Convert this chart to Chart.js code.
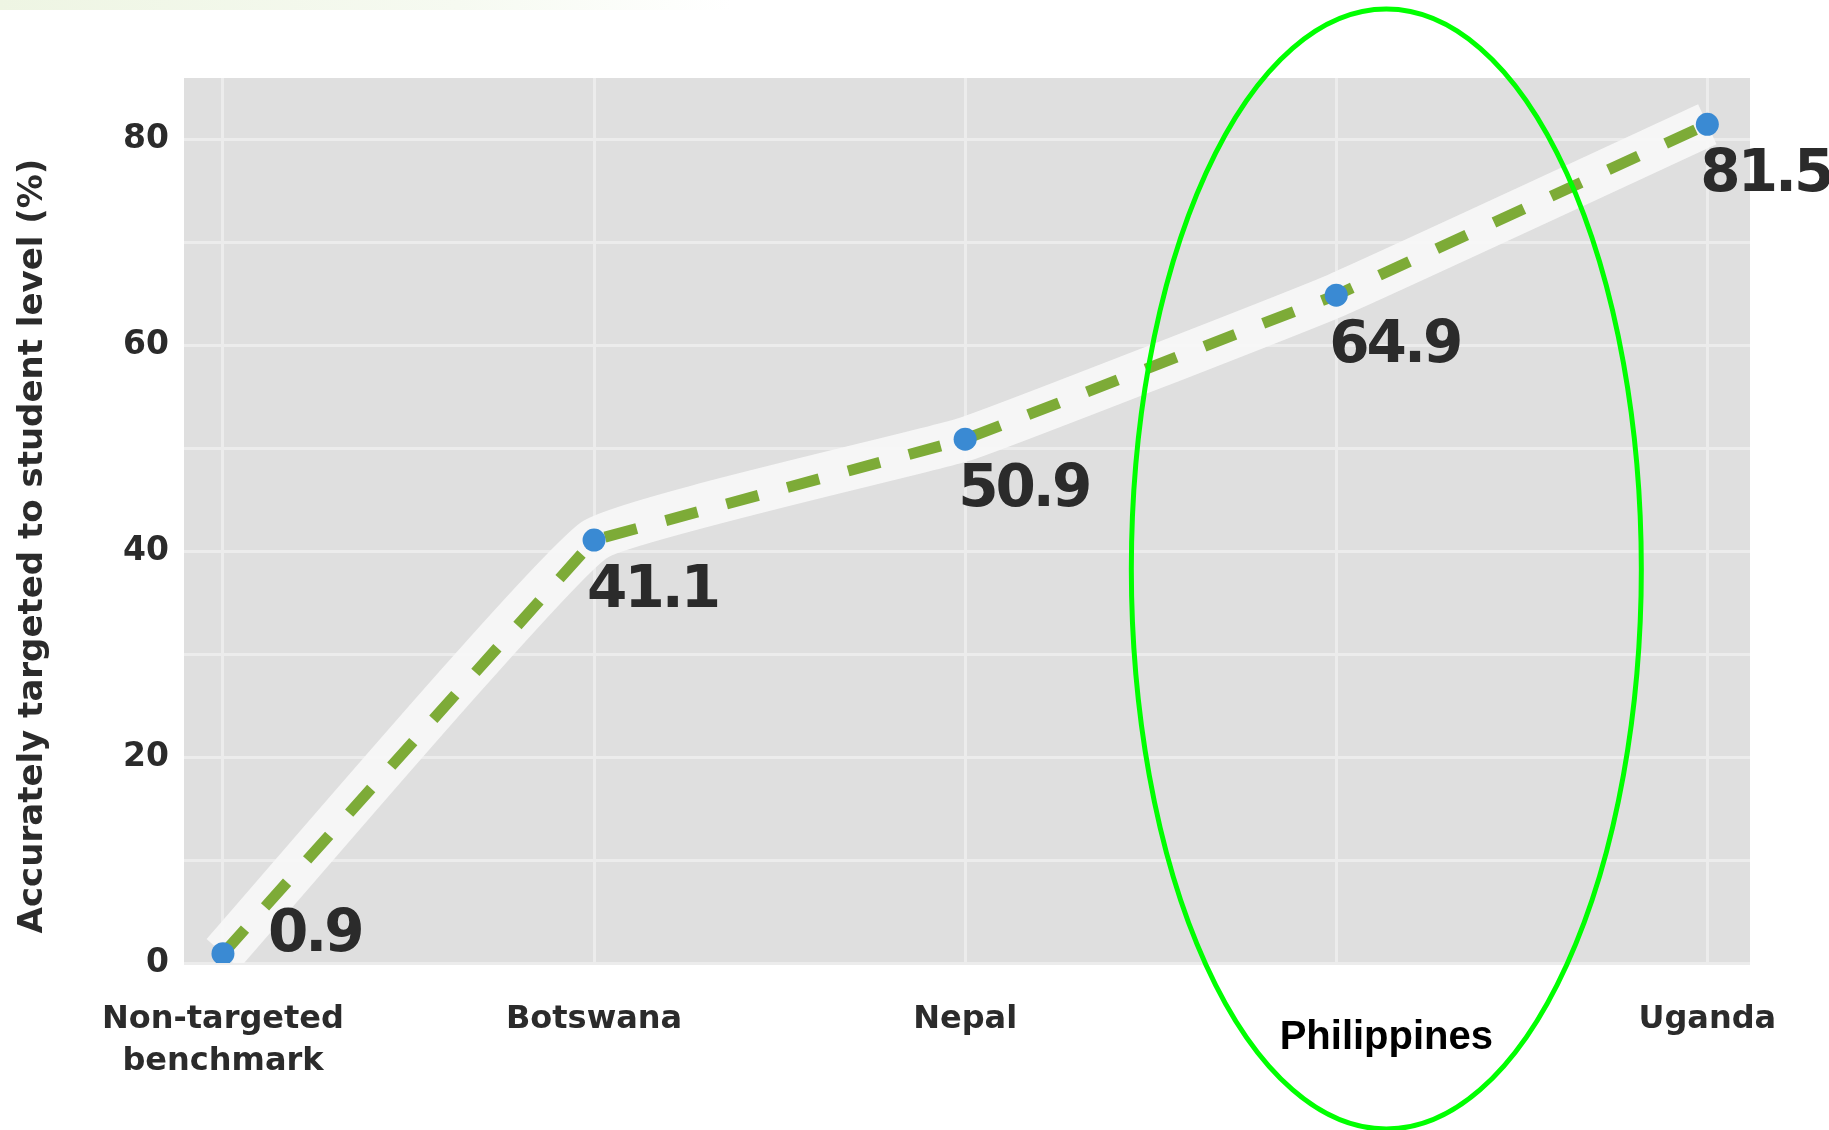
<!DOCTYPE html>
<html>
<head>
<meta charset="utf-8">
<title>Accurately targeted to student level</title>
<script src="https://cdn.jsdelivr.net/npm/chart.js@4.4.1/dist/chart.umd.min.js"></script>
<style>
  html, body { margin: 0; padding: 0; background: #ffffff; }
  #wrap { position: relative; width: 1829px; height: 1130px; }
  #strip { position: absolute; left: 0; top: 0; width: 1829px; height: 10px;
           background: linear-gradient(to right, #eef5e3 0%, #f6faf1 25%, #ffffff 40%); }
  canvas { position: absolute; left: 0; top: 0; }
</style>
</head>
<body>
<div id="wrap">
  <div id="strip"></div>
  <canvas id="chart" width="1829" height="1130"></canvas>
</div>
<script>
// Share of teaching accurately targeted to student level, by programme
const categories = ['Non-targeted benchmark', 'Botswana', 'Nepal', 'Philippines', 'Uganda'];
const tickLabels = [['Non-targeted', 'benchmark'], 'Botswana', 'Nepal', '', 'Uganda'];
const values = [0.9, 41.1, 50.9, 64.9, 81.5];
const yTickValues = [0, 20, 40, 60, 80];
const highlighted = 'Philippines';
// where each value label sits relative to its point
const labelSide = ['right', 'below', 'below', 'below', 'below'];

const points = values.map((v, i) => ({ x: i, y: v }));

const INK = '#2b2b2b';

const plotBackground = {
  id: 'plotBackground',
  beforeDraw(chart) {
    const { ctx, chartArea: a } = chart;
    ctx.save();
    ctx.fillStyle = '#dfdfdf';
    ctx.fillRect(a.left, a.top, a.right - a.left, a.bottom - a.top);
    ctx.restore();
  }
};

const valueLabels = {
  id: 'valueLabels',
  afterDatasetsDraw(chart) {
    const { ctx } = chart;
    const meta = chart.getDatasetMeta(1);
    ctx.save();
    ctx.fillStyle = INK;
    ctx.font = "bold 58px 'DejaVu Sans'";
    ctx.letterSpacing = '-3px';
    ctx.textAlign = 'left';
    ctx.textBaseline = 'alphabetic';
    meta.data.forEach((pt, i) => {
      const text = values[i].toFixed(1);
      if (labelSide[i] === 'right') {
        ctx.fillText(text, pt.x + 45, pt.y - 3);
      } else {
        ctx.fillText(text, pt.x - 7, pt.y + 67);
      }
    });
    ctx.restore();
  }
};

const annotations = {
  id: 'annotations',
  afterDraw(chart) {
    const { ctx } = chart;
    const xs = chart.scales.x;
    const idx = categories.indexOf(highlighted);

    // axis title
    ctx.save();
    ctx.fillStyle = INK;
    ctx.font = "bold 34px 'DejaVu Sans'";
    ctx.textAlign = 'center';
    ctx.textBaseline = 'middle';
    ctx.translate(33, 546);
    ctx.rotate(-Math.PI / 2);
    ctx.fillText('Accurately targeted to student level (%)', 0, 0);
    ctx.restore();

    // highlight ring and its label
    const cx = xs.getPixelForValue(idx + 0.135);
    ctx.save();
    ctx.strokeStyle = '#00ff00';
    ctx.lineWidth = 5;
    ctx.beginPath();
    ctx.ellipse(cx, 569, 255, 560, 0, 0, Math.PI * 2);
    ctx.stroke();
    ctx.fillStyle = '#000000';
    ctx.font = "bold 40px 'Liberation Sans'";
    ctx.textAlign = 'center';
    ctx.textBaseline = 'middle';
    ctx.fillText(highlighted, cx, 1038);
    ctx.restore();
  }
};

new Chart(document.getElementById('chart'), {
  type: 'line',
  data: {
    datasets: [
      {
        // soft white band under the trend
        data: points,
        order: 2,
        borderColor: 'rgba(248,248,248,0.93)',
        borderWidth: 44,
        borderCapStyle: 'butt',
        borderJoinStyle: 'round',
        tension: 0.1,
        pointRadius: 0,
        fill: false
      },
      {
        data: points,
        order: 1,
        borderColor: '#7dab37',
        borderWidth: 11,
        borderDash: [33, 30],
        borderCapStyle: 'butt',
        tension: 0,
        pointRadius: 11.5,
        pointHoverRadius: 11.5,
        pointBorderWidth: 0,
        pointBackgroundColor: '#3a8ad3',
        fill: false
      }
    ]
  },
  options: {
    responsive: false,
    animation: false,
    events: [],
    layout: { padding: { top: 78, right: 79, left: 0, bottom: 0 } },
    plugins: { legend: { display: false }, tooltip: { enabled: false } },
    scales: {
      x: {
        type: 'linear',
        min: -0.105,
        max: 4.115,
        afterBuildTicks(scale) { scale.ticks = categories.map((c, i) => ({ value: i })); },
        afterFit(scale) { scale.height = 167; },
        grid: { color: '#ececec', lineWidth: 3, drawTicks: false },
        border: { display: false },
        ticks: {
          autoSkip: false,
          maxRotation: 0,
          padding: 36,
          color: INK,
          font: { family: 'DejaVu Sans', size: 32, weight: 'bold', lineHeight: 1.3 },
          callback: (v) => tickLabels[v]
        }
      },
      y: {
        min: 0,
        max: 86,
        afterFit(scale) { scale.width = 184; },
        grid: { color: '#ececec', lineWidth: 3, drawTicks: false },
        border: { display: false },
        ticks: {
          stepSize: 10,
          includeBounds: false,
          padding: 15,
          color: INK,
          font: { family: 'DejaVu Sans', size: 33, weight: 'bold' },
          callback: (v) => (yTickValues.includes(v) ? String(v) : '')
        }
      }
    }
  },
  plugins: [plotBackground, valueLabels, annotations]
});
</script>
</body>
</html>
